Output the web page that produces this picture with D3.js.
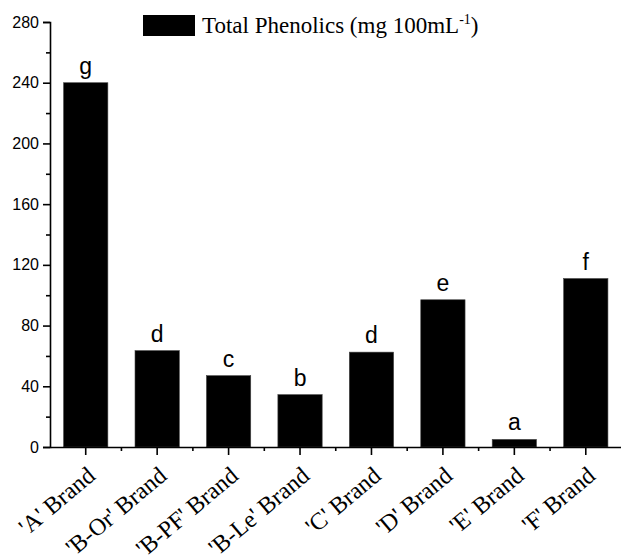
<!DOCTYPE html>
<html>
<head>
<meta charset="utf-8">
<script src="https://cdn.jsdelivr.net/npm/d3@7"></script>
<style>
  body { margin: 0; background: #fff; }
</style>
</head>
<body>
<svg id="svg" width="621" height="559"></svg>
<script>
const brands = ["'A' Brand", "'B-Or' Brand", "'B-PF' Brand", "'B-Le' Brand", "'C' Brand", "'D' Brand", "'E' Brand", "'F' Brand"];
const phenolics = [240, 63.5, 47, 34.5, 62.5, 97, 5, 111];
const letters = ['g', 'd', 'c', 'b', 'd', 'e', 'a', 'f'];
const yTicks = [0, 40, 80, 120, 160, 200, 240, 280];
const yMinor = [20, 60, 100, 140, 180, 220, 260];

const svg = d3.select('#svg');

const x = d3.scaleBand()
    .domain(brands)
    .range([50, 621.5])
    .paddingInner(0.38)
    .paddingOuter(0.19);

const y = d3.scaleLinear()
    .domain([0, 280])
    .range([447, 22]);

// bars
svg.selectAll('.bar')
    .data(phenolics)
    .enter().append('rect')
    .attr('x', (d, i) => x(brands[i]))
    .attr('y', d => y(d))
    .attr('width', x.bandwidth())
    .attr('height', d => y(0) - y(d))
    .style('fill', '#000')
    .style('stroke', '#444')
    .style('stroke-width', 0.6);

// significance letters
svg.selectAll('.letter')
    .data(letters)
    .enter().append('text')
    .attr('x', (d, i) => x(brands[i]) + x.bandwidth() / 2)
    .attr('y', (d, i) => y(phenolics[i]) - 9)
    .attr('text-anchor', 'middle')
    .style('font-family', 'Arial, "Liberation Sans", sans-serif')
    .style('font-size', '23px')
    .text(d => d);

// y axis
const yAxis = svg.append('g')
    .attr('transform', 'translate(50,0)')
    .call(d3.axisLeft(y).tickValues(yTicks).tickSize(7).tickPadding(4));
yAxis.select('.domain').attr('stroke', '#000').attr('stroke-width', 1.6);
yAxis.selectAll('.tick line').attr('stroke', '#000').attr('stroke-width', 1.6);
yAxis.selectAll('.tick text')
    .style('font-family', 'Arial, "Liberation Sans", sans-serif')
    .style('font-size', '16px')
    .attr('fill', '#000');

svg.append('g')
    .attr('transform', 'translate(50,0)')
    .call(d3.axisLeft(y).tickValues(yMinor).tickSize(4).tickFormat(''))
    .call(g => g.select('.domain').remove())
    .selectAll('.tick line').attr('stroke', '#000').attr('stroke-width', 1.6);

// x axis
const xAxis = svg.append('g')
    .attr('transform', `translate(0,${y(0)})`)
    .call(d3.axisBottom(x).tickSize(8).tickSizeOuter(0));
xAxis.select('.domain').attr('stroke', '#000').attr('stroke-width', 1.6);
xAxis.selectAll('.tick line').attr('stroke', '#000').attr('stroke-width', 1.6);
xAxis.selectAll('.tick text')
    .style('font-family', '"Liberation Serif", "Times New Roman", serif')
    .style('font-size', '24px')
    .attr('fill', '#000')
    .attr('text-anchor', 'end')
    .attr('x', 0)
    .attr('y', 0)
    .attr('dy', 0)
    .attr('transform', 'translate(11,31) rotate(-40)');

// minor x ticks at category boundaries
const step = x.step();
const bounds = brands.slice(1).map(b => x(b) - x.paddingInner() * step / 2);
svg.append('g')
    .selectAll('line')
    .data(bounds)
    .enter().append('line')
    .attr('x1', d => d)
    .attr('x2', d => d)
    .attr('y1', y(0))
    .attr('y2', y(0) + 4)
    .attr('stroke', '#000')
    .attr('stroke-width', 1.6);

// legend
const legend = svg.append('g');
legend.append('rect')
    .attr('x', 143)
    .attr('y', 15)
    .attr('width', 52)
    .attr('height', 21)
    .style('fill', '#000');
const lt = legend.append('text')
    .attr('x', 202)
    .attr('y', 33)
    .style('font-family', '"Liberation Serif", "Times New Roman", serif')
    .style('font-size', '23px');
lt.append('tspan').text('Total Phenolics (mg 100mL');
lt.append('tspan').attr('dy', -9).style('font-size', '14px').text('-1');
lt.append('tspan').attr('dy', 9).text(')');
</script>
</body>
</html>
